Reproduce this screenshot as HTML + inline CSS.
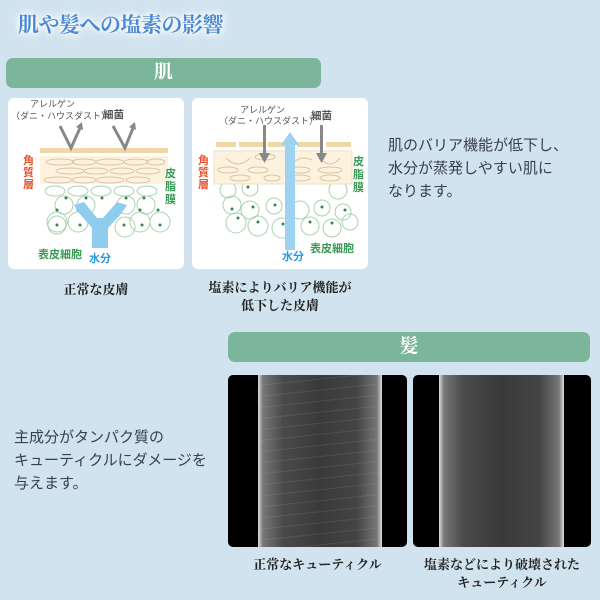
<!DOCTYPE html>
<html><head><meta charset="utf-8"><style>
body{margin:0;width:600px;height:600px;background:#d1e3ee;position:relative;overflow:hidden;font-family:"Liberation Sans","Noto Sans CJK JP",sans-serif}
.a{position:absolute}
.title{left:18px;top:9px;font-family:"Liberation Serif","Noto Serif CJK SC",serif;font-weight:bold;font-size:21px;color:#4a88d2;text-shadow:0 0 4px #fff,0 0 8px #fff,0 0 12px #fff;letter-spacing:-0.5px}
.bar{background:#7bb59a;border-radius:7px;color:#fff;text-align:center;font-family:"Liberation Serif","Noto Serif CJK SC",serif;font-weight:bold;font-size:19px;line-height:30px}
.panel{background:#fff;border-radius:6px}
.txt{font-size:15px;line-height:23px;color:#3a3f4e}
.cap{font-family:"Liberation Serif","Noto Serif CJK SC",serif;font-weight:bold;font-size:13px;color:#222;text-align:center;line-height:18px}
.img{background:#000;border-radius:5px;overflow:hidden}
.hair{position:absolute;top:0;bottom:0;background:linear-gradient(90deg,#ddd 0,#777 4%,#4a4a4a 20%,#3a3a3a 50%,#444 80%,#777 96%,#ddd 100%)}
</style></head><body>
<div class="a title">肌や髪への塩素の影響</div>
<div class="a bar" style="left:6px;top:58px;width:315px;height:30px">肌</div>
<div class="a panel" style="left:8px;top:98px;width:176px;height:171px"></div>
<div class="a panel" style="left:192px;top:98px;width:176px;height:171px"></div>
<svg class="a" style="left:0;top:0" width="600" height="300" font-family="Liberation Sans,Noto Sans CJK JP,sans-serif">
<g fill="none" stroke="#a9d2b0" stroke-width="1">
<ellipse cx="55" cy="191" rx="10" ry="5"/><ellipse cx="78" cy="191" rx="10" ry="5"/><ellipse cx="101" cy="191" rx="10" ry="5"/><ellipse cx="124" cy="191" rx="10" ry="5"/><ellipse cx="147" cy="191" rx="10" ry="5"/>
<circle cx="64" cy="205" r="9"/><circle cx="86" cy="205" r="9"/><circle cx="126" cy="205" r="9"/><circle cx="146" cy="205" r="9"/>
<circle cx="57" cy="222" r="10"/><circle cx="78" cy="222" r="10"/><circle cx="140" cy="222" r="10"/><circle cx="160" cy="222" r="10"/>
<circle cx="57" cy="225" r="9"/><circle cx="125" cy="227" r="10"/>
<circle cx="232" cy="205" r="9"/><circle cx="250" cy="210" r="9"/><circle cx="274" cy="206" r="8"/><circle cx="300" cy="210" r="9"/><circle cx="322" cy="208" r="8"/><circle cx="343" cy="212" r="8"/>
<circle cx="236" cy="223" r="10"/><circle cx="258" cy="226" r="10"/><circle cx="282" cy="228" r="10"/><circle cx="310" cy="226" r="9"/><circle cx="332" cy="228" r="9"/><circle cx="350" cy="222" r="8"/>
<circle cx="228" cy="190" r="8"/><circle cx="250" cy="188" r="8"/><circle cx="338" cy="190" r="9"/>
</g>
<rect x="40" y="148" width="128" height="5" fill="#f0d7a6"/>
<rect x="40" y="156" width="128" height="28" fill="#fdf1e0"/>
<g fill="none" stroke="#d9c7a0"><ellipse cx="60" cy="162" rx="14" ry="3"/><ellipse cx="84" cy="162" rx="12" ry="3"/><ellipse cx="110" cy="162" rx="14" ry="3"/><ellipse cx="136" cy="162" rx="12" ry="3"/><ellipse cx="156" cy="162" rx="9" ry="3"/>
<ellipse cx="70" cy="171" rx="14" ry="3"/><ellipse cx="96" cy="171" rx="12" ry="3"/><ellipse cx="122" cy="171" rx="12" ry="3"/><ellipse cx="148" cy="171" rx="12" ry="3"/>
<ellipse cx="58" cy="180" rx="14" ry="3"/><ellipse cx="84" cy="180" rx="12" ry="3"/><ellipse cx="110" cy="180" rx="14" ry="3"/><ellipse cx="138" cy="180" rx="12" ry="3"/></g>
<g fill="#2e8b4a"><circle cx="66" cy="198" r="1.5"/><circle cx="86" cy="198" r="1.5"/><circle cx="102" cy="198" r="1.5"/><circle cx="126" cy="198" r="1.5"/><circle cx="144" cy="198" r="1.5"/><circle cx="57" cy="210" r="1.5"/><circle cx="78" cy="210" r="1.5"/><circle cx="140" cy="210" r="1.5"/><circle cx="158" cy="210" r="1.5"/><circle cx="57" cy="225" r="1.5"/><circle cx="80" cy="225" r="1.5"/><circle cx="124" cy="225" r="1.5"/><circle cx="142" cy="225" r="1.5"/><circle cx="160" cy="225" r="1.5"/>
<circle cx="229" cy="183" r="1.5"/><circle cx="248" cy="187" r="1.5"/><circle cx="232" cy="209" r="1.5"/><circle cx="253" cy="207" r="1.5"/><circle cx="275" cy="205" r="1.5"/><circle cx="322" cy="207" r="1.5"/><circle cx="345" cy="210" r="1.5"/><circle cx="238" cy="218" r="1.5"/><circle cx="258" cy="222" r="1.5"/><circle cx="283" cy="224" r="1.5"/><circle cx="310" cy="222" r="1.5"/><circle cx="332" cy="223" r="1.5"/></g>
<path d="M92 248 L92 228 L78 212 L74 205 L84 202 L97 218 L103 218 L117 202 L127 205 L121 214 L108 228 L108 248 Z" fill="#8fcdee"/>
<g fill="none" stroke="#888" stroke-width="3"><path d="M60 126 L71 148 L80 128"/><path d="M113 126 L125 148 L133 128"/></g>
<g fill="#888"><path d="M76 127 L82 122 L83 130Z"/><path d="M129 127 L135 122 L136 130Z"/></g>
<text x="30" y="107" font-size="9" fill="#555">アレルゲン</text>
<text x="11" y="119" font-size="9" fill="#555">（ダニ・ハウスダスト）</text>
<text x="103" y="118" font-size="10.5" fill="#555" font-weight="bold">細菌</text>
<g font-size="11" fill="#e8542c" font-weight="bold"><text x="23" y="164">角</text><text x="23" y="176">質</text><text x="23" y="188">層</text>
<text x="198" y="164">角</text><text x="198" y="176">質</text><text x="198" y="188">層</text></g>
<g font-size="11" fill="#3a9a55" font-weight="bold"><text x="165" y="177">皮</text><text x="165" y="190">脂</text><text x="165" y="203">膜</text>
<text x="353" y="165">皮</text><text x="353" y="178">脂</text><text x="353" y="191">膜</text></g>
<text x="38" y="258" font-size="11" fill="#3a9a55" font-weight="bold">表皮細胞</text>
<text x="89" y="262" font-size="11" fill="#2a9ae0" font-weight="bold">水分</text>
<g fill="#f0d7a6"><rect x="216" y="142" width="20" height="5"/><rect x="239" y="142" width="26" height="5"/><rect x="268" y="142" width="26" height="5"/><rect x="297" y="142" width="26" height="5"/><rect x="326" y="142" width="25" height="5"/></g>
<rect x="214" y="151" width="138" height="33" fill="#fdf1e0" stroke="#f0e0c6"/>
<g fill="none" stroke="#d9c7a0"><path d="M226 158 Q238 170 250 158"/><ellipse cx="265" cy="157" rx="10" ry="3"/><path d="M292 166 Q298 154 312 160"/><path d="M320 158 Q330 170 340 158"/><ellipse cx="228" cy="170" rx="10" ry="3"/><ellipse cx="258" cy="170" rx="10" ry="3"/><ellipse cx="300" cy="170" rx="10" ry="3"/><ellipse cx="330" cy="170" rx="12" ry="3"/><ellipse cx="240" cy="178" rx="10" ry="3"/><ellipse cx="272" cy="178" rx="8" ry="3"/><ellipse cx="300" cy="178" rx="10" ry="3"/><ellipse cx="330" cy="178" rx="10" ry="3"/></g>
<path d="M285 250 L285 145 L281 145 L290 132 L299 145 L295 145 L295 250Z" fill="#9dd3f0"/>
<g fill="#888"><rect x="263" y="125" width="3" height="30"/><path d="M259 153 L270 153 L264.5 163Z"/><rect x="320" y="125" width="3" height="30"/><path d="M316 153 L327 153 L321.5 163Z"/></g>
<text x="240" y="113" font-size="9" fill="#555">アレルゲン</text>
<text x="219" y="124" font-size="9" fill="#555">（ダニ・ハウスダスト）</text>
<text x="311" y="119" font-size="10.5" fill="#555" font-weight="bold">細菌</text>
<text x="310" y="252" font-size="11" fill="#3a9a55" font-weight="bold">表皮細胞</text>
<text x="282" y="260" font-size="11" fill="#2a9ae0" font-weight="bold">水分</text>
</svg>
<div class="a txt" style="left:388px;top:134px">肌のバリア機能が低下し、<br>水分が蒸発しやすい肌に<br>なります。</div>
<div class="a cap" style="left:8px;top:281px;width:176px">正常な皮膚</div>
<div class="a cap" style="left:185px;top:279px;width:190px">塩素によりバリア機能が<br>低下した皮膚</div>
<div class="a bar" style="left:228px;top:332px;width:362px;height:30px">髪</div>
<div class="a txt" style="left:14px;top:426px">主成分がタンパク質の<br>キューティクルにダメージを<br>与えます。</div>
<div class="a img" style="left:228px;top:375px;width:179px;height:172px"><div class="hair" style="left:30px;width:124px;background:repeating-linear-gradient(174deg,transparent 0 10px,rgba(200,200,200,.12) 10px 11px),linear-gradient(90deg,#ddd 0,#777 4%,#4a4a4a 20%,#3a3a3a 50%,#444 80%,#777 96%,#ddd 100%)"></div></div>
<div class="a img" style="left:413px;top:375px;width:178px;height:172px"><div class="hair" style="left:26px;width:125px"></div></div>
<div class="a cap" style="left:228px;top:556px;width:179px">正常なキューティクル</div>
<div class="a cap" style="left:408px;top:556px;width:188px">塩素などにより破壊された<br>キューティクル</div>
</body></html>
